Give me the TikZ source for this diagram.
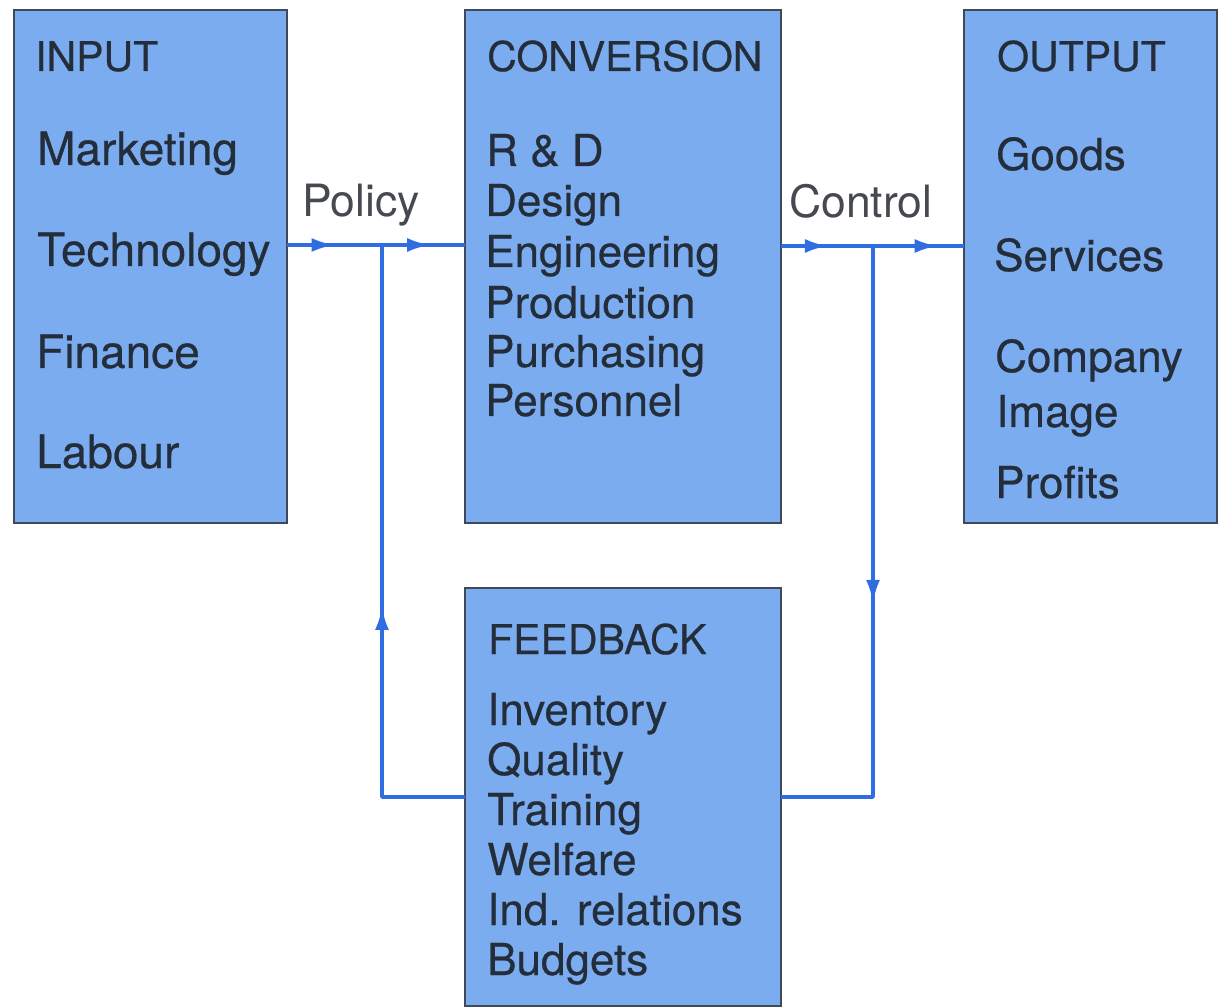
\documentclass[tikz,border=0pt]{standalone}
\usepackage{fontspec}
\setmainfont{TeX Gyre Heros}
\newfontfamily\boldish[FakeBold=0.5]{TeX Gyre Heros}
\usetikzlibrary{arrows.meta,decorations.markings}
\definecolor{boxfill}{RGB}{124,172,240}
\definecolor{boxline}{RGB}{62,74,88}
\definecolor{flow}{RGB}{48,108,226}
\definecolor{ink}{RGB}{36,46,58}
\definecolor{lblink}{RGB}{70,74,80}
\tikzset{
  blk/.style={draw=boxline,line width=1.8pt,fill=boxfill,inner sep=0pt,outer sep=0pt},
  head/.style={anchor=base west,inner sep=0pt,text=ink,font=\boldish\fontsize{41}{41}\selectfont},
  item/.style={anchor=base west,inner sep=0pt,text=ink,font=\boldish\fontsize{44}{44}\selectfont},
  bigitem/.style={item,font=\boldish\fontsize{46}{46}\selectfont},
  flowlbl/.style={anchor=base west,inner sep=0pt,text=lblink,font=\fontsize{44.5}{44.5}\selectfont},
  conn/.style={draw=flow,line width=3.6pt,line join=round},
  midarrow/.style={postaction={decorate},decoration={markings,mark=at position #1 with {\arrow{Latex[length=23pt,width=14pt]}}}}
}
\begin{document}
\begin{tikzpicture}[x=1pt,y=-1pt]
\useasboundingbox[fill=white] (0,0) rectangle (1219,1008);
% boxes
\node[blk,minimum width=273pt,minimum height=513pt] (inbox) at (150.5,266.5) {};
\node[blk,minimum width=316pt,minimum height=513pt] (convbox) at (623,266.5) {};
\node[blk,minimum width=253pt,minimum height=513pt] (outbox) at (1090.5,266.5) {};
\node[blk,minimum width=316pt,minimum height=418pt] (fbbox) at (623,797) {};
% INPUT texts
\node[head] (inH) at (35,71) {INPUT};
\node[bigitem] (in1) at (37,165) {Marketing};
\node[bigitem] (in2) at (37,266) {Technology};
\node[bigitem] (in3) at (36,368) {Finance};
\node[bigitem] (in4) at (36,468) {Labour};
% CONVERSION texts
\node[head] (cvH) at (487,71) {CONVERSION};
\node[item] (cv1) at (486,166) {R \& D};
\node[item] (cv2) at (485,216) {Design};
\node[item] (cv3) at (485,267) {Engineering};
\node[item] (cv4) at (485,318) {Production};
\node[item] (cv5) at (485,367) {Purchasing};
\node[item] (cv6) at (485,416) {Personnel};
% OUTPUT texts
\node[head] (ouH) at (997,71) {OUTPUT};
\node[item] (ou1) at (996,170) {Goods};
\node[item] (ou2) at (994,271) {Services};
\node[item] (ou3) at (995,372) {Company};
\node[item] (ou4) at (996,427) {Image};
\node[item] (ou5) at (995,498) {Profits};
% FEEDBACK texts
\node[head] (fbH) at (488,654) {FEEDBACK};
\node[item] (fb1) at (487,725) {Inventory};
\node[item] (fb2) at (487,775) {Quality};
\node[item] (fb3) at (487,825) {Training};
\node[item] (fb4) at (487,875) {Welfare};
\node[item] (fb5) at (487,925) {Ind. relations};
\node[item] (fb6) at (487,975) {Budgets};
% flow labels
\node[flowlbl] (policy) at (302,217) {Policy};
\node[flowlbl] (control) at (789,218) {Control};
% junction coordinates
\coordinate (pj) at (382,245);
\coordinate (pb) at (382,797);
\coordinate (cj) at (873,246);
\coordinate (cb) at (873,797);
\coordinate (inR) at (inbox.east |- pj);
\coordinate (cvL) at (convbox.west |- pj);
\coordinate (cvR) at (convbox.east |- cj);
\coordinate (ouL) at (outbox.west |- cj);
\coordinate (fbL) at (fbbox.west |- pb);
\coordinate (fbR) at (fbbox.east |- cb);
% connectors
\draw[conn,midarrow=0.50] (inR) -- (pj);
\draw[conn,midarrow=0.58] (pj) -- (cvL);
\draw[conn,midarrow=0.51] (cvR) -- (cj);
\draw[conn,midarrow=0.71] (cj) -- (ouL);
\draw[conn,midarrow=0.43] (fbL) -- (pb) -- (pj);
\draw[conn,midarrow=0.555] (cj) -- (cb) -- (fbR);
\end{tikzpicture}
\end{document}
